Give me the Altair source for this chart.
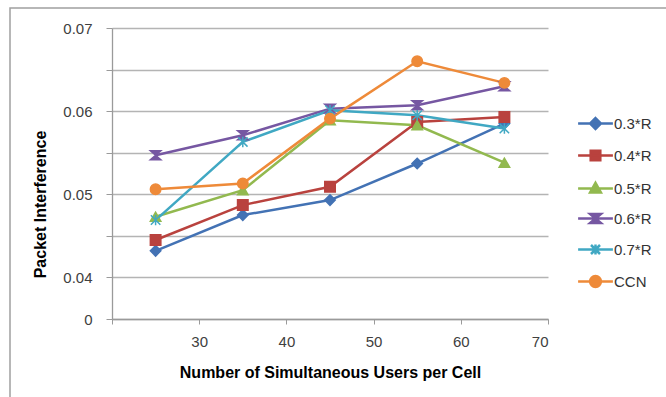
import altair as alt
import pandas as pd

# ---- data ----
users = [25, 35, 45, 55, 65]
series_names = ["0.3*R", "0.4*R", "0.5*R", "0.6*R", "0.7*R", "CCN"]
r03 = [0.0432, 0.0475, 0.0493, 0.0537, 0.0585]
r04 = [0.0445, 0.0487, 0.0509, 0.0587, 0.0593]
r05 = [0.0473, 0.0505, 0.0589, 0.0583, 0.0538]
r06 = [0.0547, 0.0571, 0.0603, 0.0607, 0.0630]
r07 = [0.0469, 0.0563, 0.0601, 0.0595, 0.0579]
ccn = [0.0506, 0.0513, 0.0591, 0.0660, 0.0634]
x_ticks = [20, 30, 40, 50, 60, 70]
y_ticks = [0.035, 0.04, 0.045, 0.05, 0.055, 0.06, 0.065, 0.07]

# ---- styles ----
colors = ["#4372B4", "#B9423E", "#92B94F", "#7657A2", "#40A8C3", "#EE8A39"]
plot_shapes = [
    "diamond",
    "square",
    "triangle-up",
    "M-1,-0.85H1L-1,0.85H1Z",
    "M-0.9,-0.9L0.9,0.9M-0.9,0.9L0.9,-0.9M0,-1V1",
    "circle",
]
legend_paths = [
    "M-5.8,0H5.8M0,-1.8L1.8,0L0,1.8L-1.8,0Z",
    "M-5.8,0H5.8M-1.6,-1.6H1.6V1.6H-1.6Z",
    "M-5.8,0H5.8M0,-1.9L1.8,1.3H-1.8Z",
    "M-5.8,0H5.8M-1.8,-1.5H1.8L-1.8,1.5H1.8Z",
    "M-5.8,0H5.8M-1.5,-1.5L1.5,1.5M-1.5,1.5L1.5,-1.5M0,-1.7V1.7",
    "M-5.8,0H5.8M1.8,0A1.8,1.8,0,1,1,-1.8,0A1.8,1.8,0,1,1,1.8,0Z",
]

rows = []
for name, vals in zip(series_names, [r03, r04, r05, r06, r07, ccn]):
    for u, v in zip(users, vals):
        rows.append({"users": u, "value": v, "series": name})
df = pd.DataFrame(rows)

FONT = "Liberation Sans"

legend = alt.Legend(
    title=None,
    orient="none",
    legendX=476,
    legendY=88,
    padding=0,
    symbolSize=36,
    symbolStrokeWidth=2.5,
    symbolOpacity=1,
    labelOffset=11,
    rowPadding=11,
    labelFont=FONT,
    labelFontSize=15,
    labelColor="#333333",
)

color_scale = alt.Scale(domain=series_names, range=colors)

x = alt.X(
    "users:Q",
    scale=alt.Scale(domain=[20, 70], nice=False, zero=False),
    axis=alt.Axis(
        values=x_ticks,
        title="Number of Simultaneous Users per Cell",
        grid=False,
        labelExpr="datum.value == 20 ? '' : datum.label",
        labelFont=FONT,
        labelFontSize=15,
        labelColor="#404040",
        labelPadding=10,
        tickSize=5,
        tickColor="#9a9a9a",
        domainColor="#9a9a9a",
        domainWidth=1.3,
        titleFont=FONT,
        titleFontSize=16,
        titleFontWeight="bold",
        titleColor="#000000",
        titlePadding=15,
    ),
)

y = alt.Y(
    "value:Q",
    scale=alt.Scale(domain=[0.035, 0.07], nice=False, zero=False),
    axis=alt.Axis(
        values=y_ticks,
        title="Packet Interference",
        labelExpr="datum.value < 0.036 ? '0' : (round(datum.value * 1000) % 10 == 0 ? format(datum.value, '.2f') : '')",
        labelFont=FONT,
        labelFontSize=15,
        labelColor="#404040",
        labelPadding=14,
        tickSize=6,
        tickColor="#9a9a9a",
        domainColor="#9a9a9a",
        domainWidth=1.3,
        gridColor="#b4b4b4",
        gridWidth=1.4,
        titleFont=FONT,
        titleFontSize=16,
        titleFontWeight="bold",
        titleColor="#000000",
        titleX=-72,
        titleY=176,
        titleAlign="center",
        titleBaseline="middle",
    ),
)

base = alt.Chart(df)

lines = base.mark_line(strokeWidth=2.5).encode(
    x=x, y=y,
    color=alt.Color("series:N", scale=color_scale, sort=series_names, legend=None),
    order=alt.Order("users:Q"),
)

points = base.mark_point(filled=True, opacity=1, strokeWidth=1.5, size=110).encode(
    x=x,
    y=y,
    color=alt.Color("series:N", scale=color_scale, legend=None),
    stroke=alt.Stroke("series:N", scale=color_scale, legend=None),
    shape=alt.Shape("series:N", scale=alt.Scale(domain=series_names, range=plot_shapes), legend=None),
)

legend_layer = base.transform_filter("false").mark_point(
    filled=True, opacity=1, strokeWidth=2.5, size=36
).encode(
    x=x,
    y=y,
    color=alt.Color("series:N", scale=color_scale, legend=legend),
    stroke=alt.Stroke("series:N", scale=color_scale, legend=legend),
    shape=alt.Shape("series:N", scale=alt.Scale(domain=series_names, range=legend_paths), legend=legend),
)

frame = alt.Chart(alt.Data(values=[{"a": 1}])).mark_rect(
    fillOpacity=0, stroke="#a0a0a0", strokeWidth=1.5
).encode(
    x=alt.value(-102), x2=alt.value(620), y=alt.value(-20), y2=alt.value(420)
)

chart = (
    alt.layer(frame, lines, points, legend_layer)
    .resolve_scale(color="independent", stroke="independent", shape="independent")
    .properties(
        width=436,
        height=291,
        autosize=alt.AutoSizeParams(type="none"),
        padding={"left": 112, "top": 28, "right": 118, "bottom": 78},
        background="white",
    )
    .configure_view(stroke="transparent")
)

chart.save("out.html", embed_options={"renderer": "svg", "actions": False})
